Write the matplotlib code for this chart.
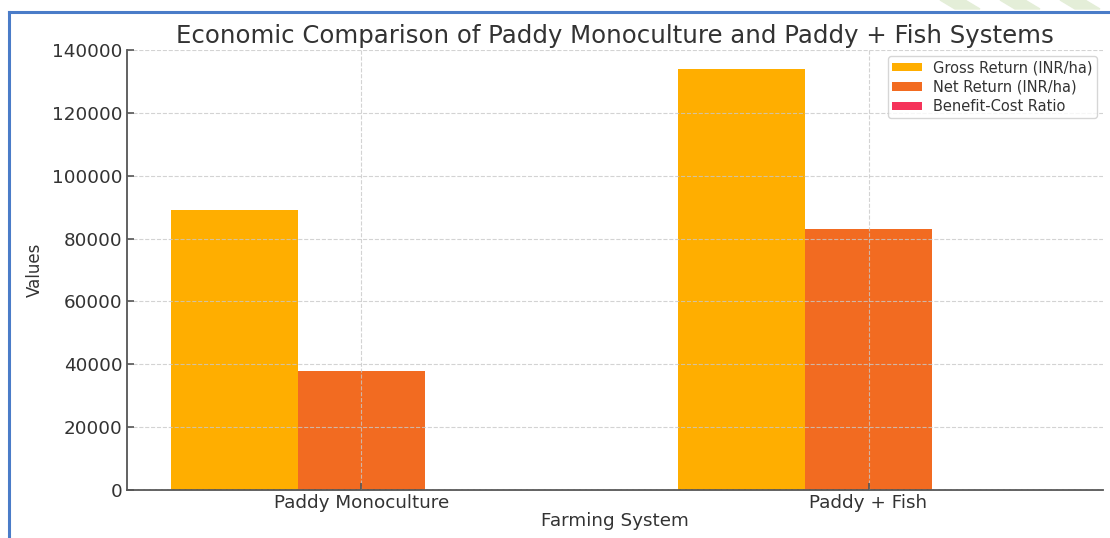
import numpy as np
import matplotlib
matplotlib.use("Agg")
import matplotlib.pyplot as plt
from matplotlib.patches import Polygon
from matplotlib.lines import Line2D

systems = ["Paddy Monoculture", "Paddy + Fish"]
gross_return = [89000, 134000]
net_return = [38000, 83000]
bc_ratio = [1.74, 2.63]

series_names = ["Gross Return (INR/ha)", "Net Return (INR/ha)", "Benefit-Cost Ratio"]
colors = ["#FFAE00", "#F26B21", "#F5335A"]

fig = plt.figure(figsize=(11.10, 5.38), dpi=100)
ax = fig.add_axes([0.1144, 0.0892, 0.8793, 0.8178])

x = np.arange(len(systems))
w = 0.25
for i, (vals, name, c) in enumerate(zip([gross_return, net_return, bc_ratio], series_names, colors)):
    ax.bar(x + (i - 1) * w, vals, width=w, color=c, label=name, zorder=1)

ax.set_ylim(0, 140000)
ax.set_yticks(np.arange(0, 140001, 20000))
ax.set_xticks(x)
ax.set_xticklabels(systems)

ax.grid(True, linestyle="--", color="#c8c8c8", linewidth=0.8, alpha=0.8, zorder=2)
ax.set_axisbelow(False)

for s in ["top", "right"]:
    ax.spines[s].set_visible(False)
for s in ["left", "bottom"]:
    ax.spines[s].set_color("#555555")
    ax.spines[s].set_linewidth(1.3)

ax.tick_params(axis="both", direction="in", length=5, width=1.2, color="#555555",
               labelsize=13.2, labelcolor="#333333", pad=3)

ax.set_title("Economic Comparison of Paddy Monoculture and Paddy + Fish Systems",
             fontsize=17.6, color="#333333", pad=5)
ax.set_xlabel("Farming System", fontsize=13.2, color="#333333", labelpad=0)
ax.set_ylabel("Values", fontsize=12, color="#333333", labelpad=6)

leg = ax.legend(loc="upper right", fontsize=10.5, frameon=True, fancybox=True,
                edgecolor="#cccccc", handlelength=2.0, handleheight=0.5,
                labelspacing=0.3, borderpad=0.3, borderaxespad=0.4)
for t in leg.get_texts():
    t.set_color("#333333")

# document frame (blue border) and faint decoration
fig.add_artist(Line2D([9 / 1110, 9 / 1110], [0, 1 - 12 / 538], color="#4A7CC8", linewidth=2.2))
fig.add_artist(Line2D([9 / 1110, 1], [1 - 12 / 538, 1 - 12 / 538], color="#4A7CC8", linewidth=2.2))
for x0 in [940, 1000, 1060]:
    fig.add_artist(Polygon([((x0) / 1110, 1.0), ((x0 + 25) / 1110, 1.0),
                            ((x0 + 40) / 1110, 1 - 9 / 538), ((x0 + 15) / 1110, 1 - 9 / 538)],
                           closed=True, transform=fig.transFigure, color="#E4EED8", zorder=0))

fig.savefig("out.png", dpi=100)
